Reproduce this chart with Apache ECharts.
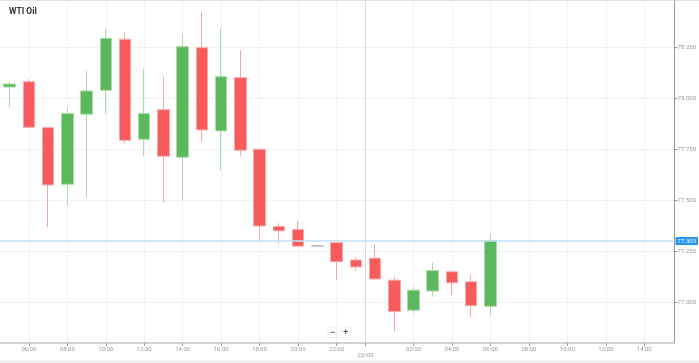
<!DOCTYPE html>
<html>
<head>
<meta charset="utf-8">
<script src="https://cdn.jsdelivr.net/npm/echarts@6/dist/echarts.min.js"></script>
<style>html,body{margin:0;padding:0;background:#fff;}#c{width:699px;height:363px;}</style>
</head>
<body>
<div id="c"></div>
<script>
// hours since 22/05 00:00 (candle times)
const hours = [5,6,7,8,9,10,11,12,13,14,15,16,17,18,19,20,21,22,23,24,25,26,27,28,29,30];
const opens  = [78.055,78.081,77.856,77.578,77.922,78.039,78.289,77.799,77.944,77.711,78.248,77.840,78.101,77.750,77.371,77.356,77.276,77.292,77.207,77.216,77.108,76.961,77.055,77.149,77.100,76.980];
const closes = [78.070,77.858,77.575,77.925,78.036,78.294,77.794,77.925,77.716,78.253,77.845,78.106,77.745,77.374,77.350,77.275,77.276,77.199,77.173,77.114,76.954,77.059,77.155,77.095,76.983,77.303];
const lows   = [77.956,77.858,77.368,77.477,77.516,77.925,77.779,77.717,77.488,77.497,77.787,77.647,77.719,77.305,77.286,77.275,77.276,77.109,77.155,77.114,76.856,76.946,77.027,77.036,76.928,76.938];
const highs  = [78.083,78.093,77.856,77.956,78.134,78.343,78.324,78.145,78.106,78.314,78.425,78.343,78.235,77.750,77.387,77.399,77.276,77.292,77.222,77.286,77.125,77.076,77.194,77.149,77.135,77.335];
const xTickValues = [6,8,10,12,14,16,18,20,22,23.5,26,28,30,32,34,36,38];
const dayLabel = '23/05';
const dayBoundary = 23.5;
const yTickValues = [77.0,77.25,77.5,77.75,78.0,78.25];
const lastPrice = 77.303;
const title = 'WTI Oil';

const data = hours.map((h,i)=>[h, opens[i], closes[i], lows[i], highs[i]]);

const chart = echarts.init(document.getElementById('c'), null, {renderer:'canvas'});
chart.setOption({
  animation:false,
  backgroundColor:'#fff',
  title:{text:title,left:4,top:2,textStyle:{fontFamily:'Roboto',fontSize:8.5,fontWeight:'bold',color:'#333'}},
  grid:{left:0,right:21,top:1,bottom:20,containLabel:false},
  xAxis:{
    type:'value',min:4.5,max:39.575,
    axisLine:{show:true,lineStyle:{color:'#c4c4c4',width:1.5}},
    axisTick:{show:true,length:3,customValues:xTickValues,lineStyle:{color:'#999'}},
    axisLabel:{customValues:xTickValues,fontSize:6,color:'#999',fontFamily:'Roboto',margin:3,
      formatter:function(v){ if(Math.abs(v-dayBoundary)<1e-6) return '\n'+dayLabel; const hh=((Math.round(v)%24)+24)%24; return (hh<10?'0':'')+hh+':00'; }},
    splitLine:{show:true,lineStyle:{color:'#f2f2f2',width:1}}
  },
  yAxis:{
    type:'value',position:'right',min:76.8,max:78.477,scale:true,
    axisLine:{show:true,lineStyle:{color:'#999',width:1}},
    axisTick:{show:true,length:3,customValues:yTickValues,lineStyle:{color:'#999'}},
    axisLabel:{customValues:yTickValues,fontSize:6,color:'#999',fontFamily:'Roboto',margin:3,
      formatter:function(v){return v.toFixed(3);}},
    splitLine:{show:true,lineStyle:{color:'#f2f2f2',width:1}}
  },
  series:[{
    type:'candlestick',
    data:data,
    encode:{x:0,y:[1,2,3,4]},
    barWidth:12,
    itemStyle:{color:'#5cb85c',color0:'#f75b5b',borderColor:'#a9dba9',borderColor0:'#f9a6a6',borderColorDoji:'#b0b0b0',borderWidth:1},
    markLine:{
      silent:true,symbol:['none','none'],
      data:[
        {yAxis:lastPrice,lineStyle:{color:'#bfe2f7',width:1.5,type:'solid'},
         label:{show:true,position:'end',formatter:lastPrice.toFixed(3),backgroundColor:'#2196f3',color:'#fff',fontSize:6,padding:[1,2],distance:1,fontFamily:'Roboto'}},
        {xAxis:dayBoundary,lineStyle:{color:'#dcdcdc',width:1,type:'solid'},label:{show:false}}
      ]
    }
  }],
  graphic:[
    {type:'line',shape:{x1:0,y1:0.5,x2:699,y2:0.5},style:{stroke:'#e2e2e2',lineWidth:1},silent:true},
    {type:'line',shape:{x1:0,y1:361.5,x2:699,y2:361.5},style:{stroke:'#e6e6e6',lineWidth:1.5},silent:true},
    {type:'text',left:328,top:328,style:{text:'−',fontSize:9,fontWeight:'bold',fill:'#555',backgroundColor:'#fff',padding:[0,2],shadowColor:'rgba(0,0,0,0.15)',shadowBlur:2}},
    {type:'text',left:341,top:328,style:{text:'+',fontSize:9,fontWeight:'bold',fill:'#555',backgroundColor:'#fff',padding:[0,2],shadowColor:'rgba(0,0,0,0.15)',shadowBlur:2}}
  ]
});
</script>
</body>
</html>
